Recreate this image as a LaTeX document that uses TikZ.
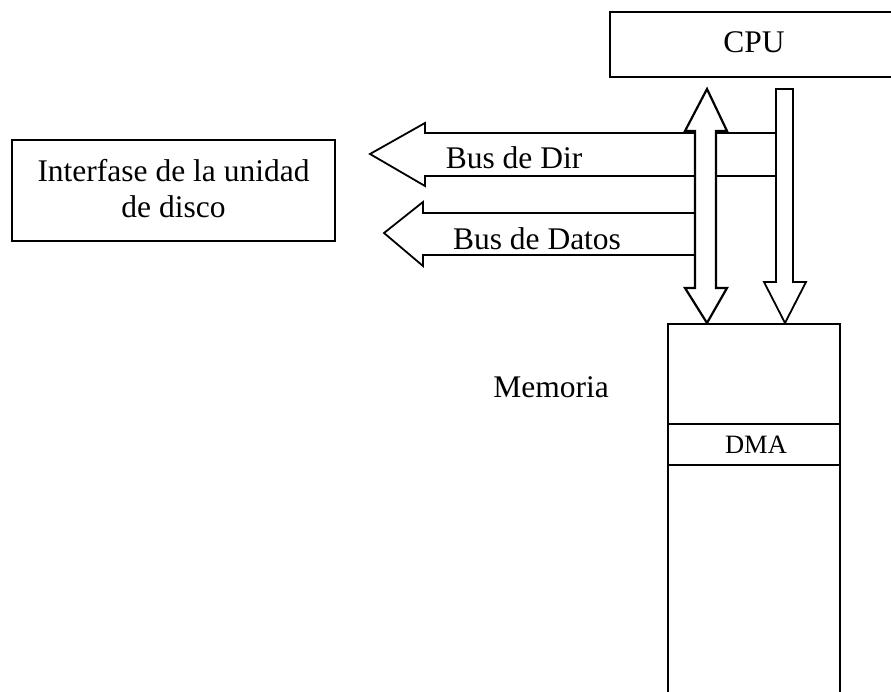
\documentclass[tikz,border=0pt]{standalone}
\usepackage{fontspec}
\setmainfont{Liberation Serif}

\tikzset{
  txt/.style={font=\fontsize{31.5}{36}\selectfont, inner sep=0pt},
  smalltxt/.style={font=\fontsize{26.5}{30}\selectfont, inner sep=0pt},
  box/.style={draw, line width=2.4pt},
  bus/.style={draw, fill=white, line width=1.8pt, line join=miter}
}

\begin{document}
\begin{tikzpicture}[x=1pt, y=-1pt]
\useasboundingbox (0,0) rectangle (891,692);

% boxes
\draw[box] (891,12) -| (610,77) -- (891,77);
\draw[box] (12,140) rectangle (335,241);
\draw[box] (668,692) |- (840,324) -- (840,692);
\draw[line width=2pt] (668,424) -- (840,424) (668,465) -- (840,465);

\node[txt, anchor=base] (cpu) at (754,53) {CPU};
\node[txt, align=center] (disco) at (173.5,189) {Interfase de la unidad\\de disco};
\node[txt, anchor=base] (mem) at (551,397) {Memoria};
\node[smalltxt, anchor=base] (dma) at (756,453) {DMA};

% buses hacia la interfase
\draw[bus] (370,154) -- (425,123) -- (425,133) -- (776,133) -- (776,176)
  -- (425,176) -- (425,186) -- cycle;
\draw[bus] (384,233) -- (423,202) -- (423,213) -- (695,213) -- (695,255)
  -- (423,255) -- (423,266) -- cycle;

% CPU -> memoria
\draw[bus] (776,89) -- (793,89) -- (793,282) -- (806,282) -- (785,323)
  -- (764,282) -- (776,282) -- cycle;
\draw[bus, line width=2.2pt] (707,89) -- (727,131) -- (716,131) -- (716,288) -- (727,288)
  -- (707,323) -- (685,288) -- (695,288) -- (695,131) -- (685,131) -- cycle;

\node[txt, anchor=base] (dir) at (514,169) {Bus de Dir};
\node[txt, anchor=base] (datos) at (537,250) {Bus de Datos};
\end{tikzpicture}
\end{document}
